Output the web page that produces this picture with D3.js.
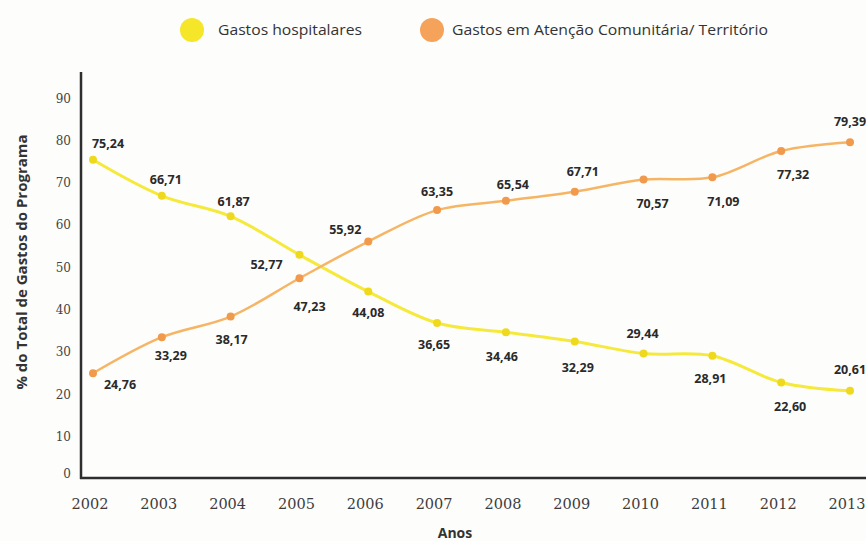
<!DOCTYPE html>
<html>
<head>
<meta charset="utf-8">
<script src="https://cdn.jsdelivr.net/npm/d3@7"></script>
<style>
  body { margin: 0; background: #fdfdfc; }
  svg { display: block; }
</style>
</head>
<body>
<div id="chart"></div>
<script>
// data
var years = [2002, 2003, 2004, 2005, 2006, 2007, 2008, 2009, 2010, 2011, 2012, 2013];
var hospitalares = [75.24, 66.71, 61.87, 52.77, 44.08, 36.65, 34.46, 32.29, 29.44, 28.91, 22.60, 20.61];
var comunitaria = [24.76, 33.29, 38.17, 47.23, 55.92, 63.35, 65.54, 67.71, 70.57, 71.09, 77.32, 79.39];
var yTicks = [0, 10, 20, 30, 40, 50, 60, 70, 80, 90];
var seriesNames = ["Gastos hospitalares", "Gastos em Atenção Comunitária/ Território"];

// where each value label sits relative to its point (layout only)
var offHosp = [[15,-16],[4,-16],[3,-15],[-33,10],[0,21],[-3,22],[-4,24],[3,26],[-1,-20],[-2,23],[9,24],[0,-21]];
var offCom  = [[27,11],[9,18],[1,23],[10,28],[-23,-12],[0,-18],[7,-16],[8,-20],[9,24],[11,24],[12,24],[0,-21]];

var width = 866, height = 541;

var svg = d3.select("#chart").append("svg")
    .attr("width", width)
    .attr("height", height);

var x = d3.scalePoint()
    .domain(years)
    .range([93, 850]);

var y = d3.scaleLinear()
    .domain([0, 96])
    .range([478, 72]);

function fmt(v) { return d3.format(".2f")(v).replace(".", ","); }

// legend
var legend = [
  {name: seriesNames[0], color: "#f6e62a", cx: 192, tx: 218, len: 144},
  {name: seriesNames[1], color: "#f5a35a", cx: 432, tx: 452, len: 316}
];
legend.forEach(function(l) {
  svg.append("circle").attr("cx", l.cx).attr("cy", 30).attr("r", 12).attr("fill", l.color);
  svg.append("text")
    .attr("x", l.tx).attr("y", 35)
    .attr("textLength", l.len).attr("lengthAdjust", "spacingAndGlyphs")
    .style("font-family", "'Open Sans', sans-serif")
    .style("font-size", "14px")
    .style("fill", "#333")
    .text(l.name);
});

// axes lines
svg.append("line")
    .attr("x1", 81).attr("x2", 81).attr("y1", 72).attr("y2", y(0) + 1)
    .attr("stroke", "#2e2e2e").attr("stroke-width", 2.5);
svg.append("line")
    .attr("x1", 80).attr("x2", 866).attr("y1", y(0)).attr("y2", y(0))
    .attr("stroke", "#2e2e2e").attr("stroke-width", 2.5);

// y tick labels
svg.selectAll(".ytick")
  .data(yTicks)
  .enter().append("text")
    .attr("class", "ytick")
    .attr("x", 71)
    .attr("y", function(d) { return d === 0 ? y(d) - 4 : y(d) + 1; })
    .attr("dy", "0.35em")
    .attr("text-anchor", "end")
    .style("font-family", "'DejaVu Serif', serif")
    .style("font-size", "12px")
    .style("fill", "#444")
    .text(function(d) { return d; });

// x tick labels
svg.selectAll(".xtick")
  .data(years)
  .enter().append("text")
    .attr("class", "xtick")
    .attr("x", function(d) { return x(d) - 3; })
    .attr("y", 509)
    .attr("text-anchor", "middle")
    .style("font-family", "'DejaVu Serif', serif")
    .style("font-size", "14.5px")
    .style("fill", "#3c3c3c")
    .text(function(d) { return d; });

// axis titles
svg.append("text")
    .attr("x", 455).attr("y", 538)
    .attr("text-anchor", "middle")
    .style("font-family", "'Open Sans', sans-serif")
    .style("font-weight", "bold")
    .style("font-size", "14px")
    .style("fill", "#333")
    .text("Anos");

svg.append("text")
    .attr("transform", "translate(27,262) rotate(-90)")
    .attr("text-anchor", "middle")
    .style("font-family", "'Open Sans', sans-serif")
    .style("font-weight", "bold")
    .style("font-size", "15px")
    .style("fill", "#333")
    .text("% do Total de Gastos do Programa");

// series
var series = [
  {values: hospitalares, line: "#f5ea3c", dot: "#efd91e", off: offHosp, w: 3},
  {values: comunitaria, line: "#f6b565", dot: "#f19a4c", off: offCom, w: 2.5}
];

var line = d3.line()
    .curve(d3.curveCatmullRom.alpha(0.5))
    .x(function(d, i) { return x(years[i]); })
    .y(function(d) { return y(d); });

series.forEach(function(s) {
  svg.append("path")
      .datum(s.values)
      .attr("fill", "none")
      .attr("stroke", s.line)
      .attr("stroke-width", s.w)
      .attr("d", line);

  svg.selectAll(null)
    .data(s.values)
    .enter().append("circle")
      .attr("cx", function(d, i) { return x(years[i]); })
      .attr("cy", function(d) { return y(d); })
      .attr("r", 4)
      .attr("fill", s.dot);

  svg.selectAll(null)
    .data(s.values)
    .enter().append("text")
      .attr("x", function(d, i) { return x(years[i]) + s.off[i][0]; })
      .attr("y", function(d, i) { return y(d) + s.off[i][1]; })
      .attr("dy", "0.35em")
      .attr("text-anchor", "middle")
      .style("font-family", "'Open Sans', sans-serif")
      .style("font-weight", "bold")
      .style("font-size", "12.5px")
      .style("fill", "#2a2a2a")
      .text(function(d) { return fmt(d); });
});
</script>
</body>
</html>
